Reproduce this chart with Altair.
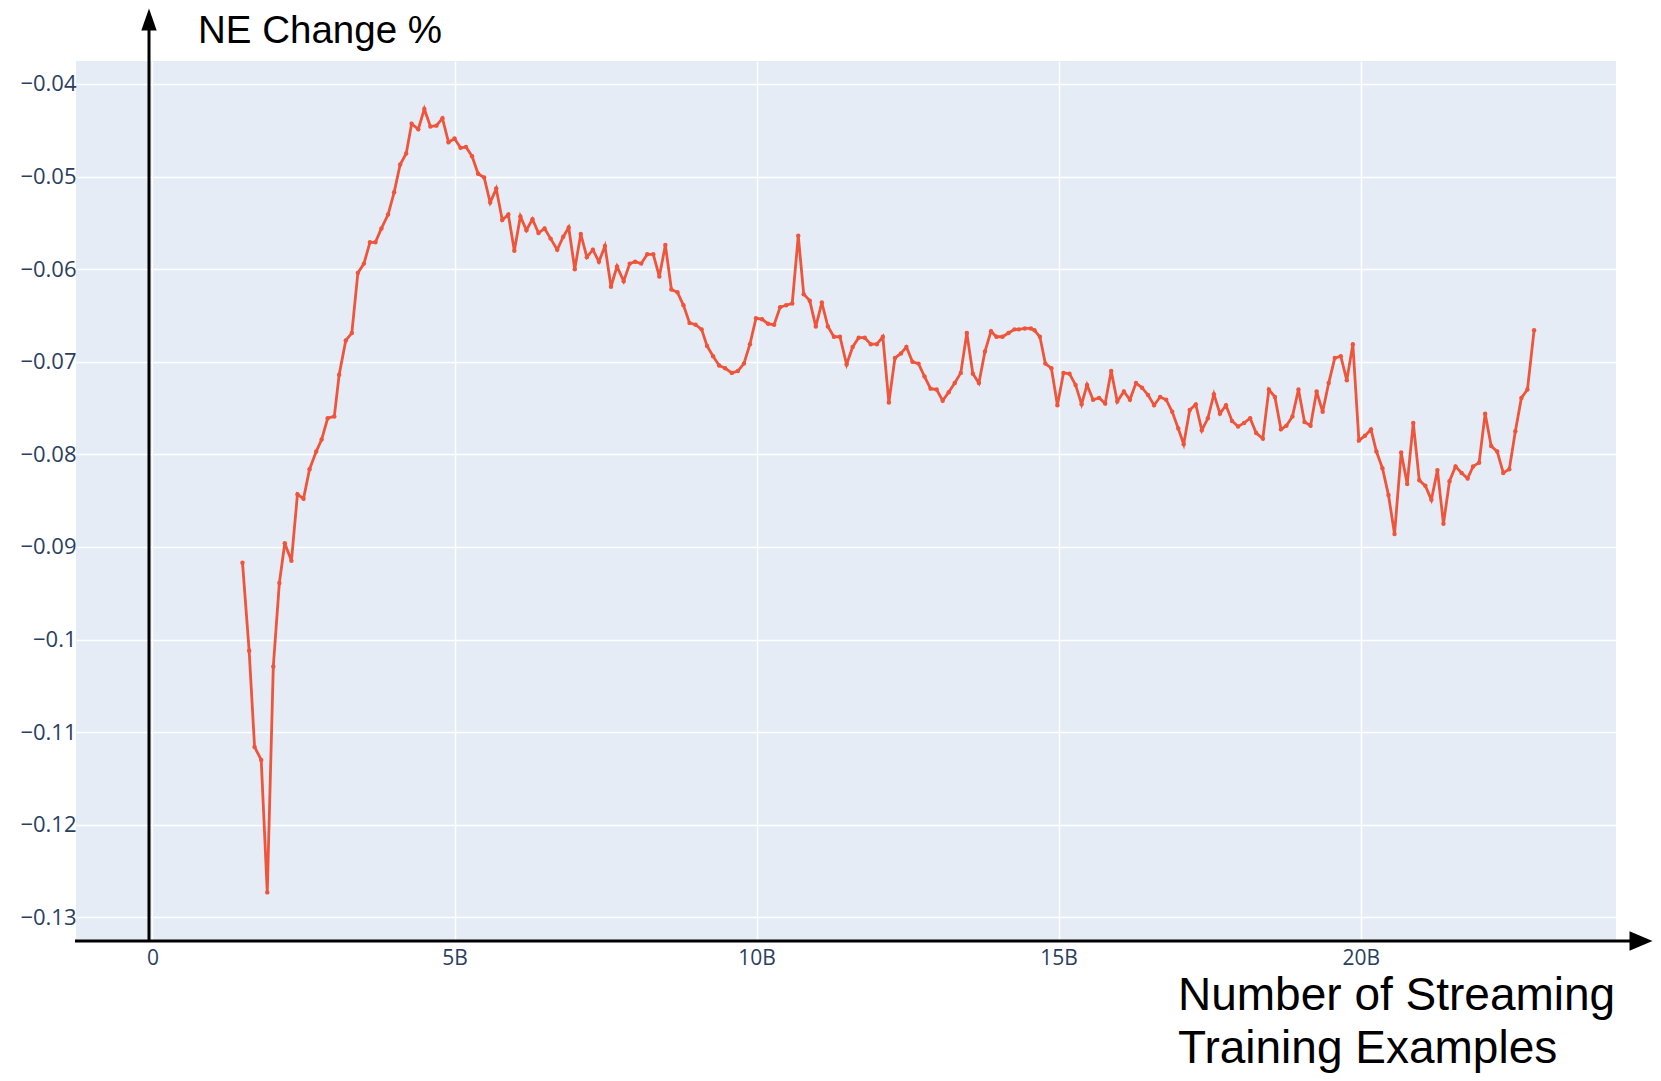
import altair as alt
import pandas as pd

# Number of streaming training examples (billions) and NE change (%)
x_early = [1.49, 1.60, 1.69, 1.80, 1.90, 2.00, 2.10, 2.19, 2.30, 2.40,
           2.50, 2.60, 2.71, 2.80, 2.90, 3.01, 3.09, 3.20, 3.30, 3.40,
           3.50, 3.60, 3.69, 3.79, 3.90, 4.00, 4.10, 4.20, 4.29, 4.40,
           4.50, 4.60, 4.70, 4.80, 4.90, 5.00, 5.10, 5.19, 5.29, 5.39,
           5.49, 5.59, 5.69, 5.79, 5.89, 5.99, 6.09, 6.19, 6.29, 6.39,
           6.49, 6.59, 6.70, 6.80, 6.89, 6.99, 7.09, 7.19, 7.29, 7.39,
           7.49, 7.59, 7.69, 7.80, 7.90]
y_early = [-0.0917, -0.1012, -0.1116, -0.1130, -0.1273, -0.1029, -0.0939, -0.0896, -0.0915, -0.0843,
           -0.0848, -0.0816, -0.0797, -0.0784, -0.0761, -0.0759, -0.0714, -0.0677, -0.0669, -0.0604,
           -0.0594, -0.0571, -0.0571, -0.0556, -0.0541, -0.0517, -0.0487, -0.0475, -0.0443, -0.0449,
           -0.0427, -0.0446, -0.0445, -0.0437, -0.0463, -0.0459, -0.0469, -0.0468, -0.0478, -0.0497,
           -0.0501, -0.0528, -0.0513, -0.0547, -0.0541, -0.0580, -0.0543, -0.0558, -0.0546, -0.0561,
           -0.0556, -0.0567, -0.0579, -0.0565, -0.0555, -0.0600, -0.0562, -0.0587, -0.0579, -0.0592,
           -0.0575, -0.0619, -0.0597, -0.0613, -0.0594]

x_mid = [7.99, 8.09, 8.19, 8.29, 8.39, 8.49, 8.59, 8.69, 8.79, 8.89,
         8.99, 9.09, 9.18, 9.28, 9.38, 9.48, 9.59, 9.69, 9.79, 9.89,
         9.99, 10.09, 10.19, 10.29, 10.39, 10.49, 10.59, 10.69, 10.78, 10.88,
         10.98, 11.08, 11.18, 11.28, 11.38, 11.49, 11.59, 11.69, 11.79, 11.89,
         11.99, 12.09, 12.19, 12.29, 12.39, 12.48, 12.58, 12.68, 12.78, 12.88,
         12.98, 13.08, 13.18, 13.28, 13.38, 13.48, 13.58, 13.68, 13.78, 13.88,
         13.97, 14.07, 14.17, 14.27]
y_mid = [-0.0592, -0.0594, -0.0584, -0.0584, -0.0608, -0.0574, -0.0622, -0.0625, -0.0639, -0.0658,
         -0.0660, -0.0665, -0.0683, -0.0694, -0.0704, -0.0707, -0.0712, -0.0710, -0.0702, -0.0681,
         -0.0653, -0.0654, -0.0659, -0.0660, -0.0641, -0.0639, -0.0637, -0.0564, -0.0627, -0.0634,
         -0.0662, -0.0636, -0.0662, -0.0673, -0.0673, -0.0703, -0.0684, -0.0674, -0.0674, -0.0681,
         -0.0681, -0.0673, -0.0744, -0.0696, -0.0691, -0.0684, -0.0700, -0.0702, -0.0716, -0.0729,
         -0.0730, -0.0742, -0.0733, -0.0723, -0.0712, -0.0669, -0.0713, -0.0723, -0.0689, -0.0667,
         -0.0673, -0.0673, -0.0669, -0.0665]

x_late = [14.34, 14.44, 14.54, 14.60, 14.69, 14.78, 14.88, 14.98, 15.08, 15.18,
          15.28, 15.38, 15.47, 15.57, 15.67, 15.77, 15.87, 15.97, 16.08, 16.18,
          16.28, 16.38, 16.48, 16.58, 16.68, 16.78, 16.88, 16.98, 17.07, 17.17,
          17.27, 17.37, 17.47, 17.57, 17.67, 17.77, 17.87, 17.97, 18.07, 18.17,
          18.27, 18.38, 18.48, 18.58, 18.68, 18.77, 18.87, 18.97, 19.07, 19.17,
          19.27, 19.37, 19.47, 19.57, 19.67, 19.77, 19.87, 19.97, 20.07, 20.17,
          20.26, 20.36, 20.46, 20.56]
y_late = [-0.0665, -0.0664, -0.0664, -0.0666, -0.0673, -0.0702, -0.0707, -0.0747, -0.0712, -0.0713,
          -0.0725, -0.0746, -0.0725, -0.0741, -0.0739, -0.0745, -0.0710, -0.0743, -0.0732, -0.0741,
          -0.0723, -0.0728, -0.0736, -0.0747, -0.0738, -0.0741, -0.0754, -0.0772, -0.0789, -0.0752,
          -0.0746, -0.0774, -0.0761, -0.0735, -0.0756, -0.0747, -0.0764, -0.0770, -0.0766, -0.0761,
          -0.0777, -0.0783, -0.0730, -0.0738, -0.0773, -0.0769, -0.0759, -0.0730, -0.0765, -0.0769,
          -0.0732, -0.0754, -0.0723, -0.0696, -0.0694, -0.0720, -0.0681, -0.0785, -0.0780, -0.0773,
          -0.0797, -0.0815, -0.0844, -0.0886]

x_end = [20.67, 20.77, 20.87, 20.97, 21.07, 21.17, 21.27, 21.37, 21.47, 21.57,
         21.67, 21.77, 21.86, 21.96, 22.06, 22.16, 22.26, 22.36, 22.46, 22.56,
         22.66, 22.76, 22.87]
y_end = [-0.0798, -0.0832, -0.0766, -0.0828, -0.0834, -0.0849, -0.0817, -0.0875, -0.0829, -0.0813,
         -0.0820, -0.0826, -0.0813, -0.0809, -0.0756, -0.0791, -0.0797, -0.0820, -0.0816, -0.0775,
         -0.0739, -0.0730, -0.0666]

x_ticks = [0, 5, 10, 15, 20]
y_ticks = [-0.04, -0.05, -0.06, -0.07, -0.08, -0.09, -0.10, -0.11, -0.12, -0.13]

y_title = "NE Change %"
x_title = ["Number of Streaming", "Training Examples"]

df = pd.DataFrame({"x": x_early + x_mid + x_late + x_end,
                   "y": y_early + y_mid + y_late + y_end})

W, H = 1540, 880
LINE_COLOR = "#EF553B"
TICK_COLOR = "#2a3f5f"

xscale = alt.Scale(domain=[-1.266, 24.226], nice=False, zero=False)
yscale = alt.Scale(domain=[-0.13255, -0.03752], nice=False, zero=False)

xaxis = alt.Axis(values=x_ticks, labelExpr="datum.value == 0 ? '0' : datum.value + 'B'",
                 title=None, grid=True, gridColor="white", gridWidth=1.5, domain=False,
                 ticks=False, labelFontSize=21, labelColor=TICK_COLOR, labelFont="Open Sans",
                 labelPadding=6)
yaxis = alt.Axis(values=y_ticks, format=".2~f", title=None, grid=True, gridColor="white",
                 gridWidth=1.5, domain=False, ticks=False, labelFontSize=22,
                 labelColor=TICK_COLOR, labelFont="Open Sans", labelPadding=0)

base = alt.Chart(df).encode(
    x=alt.X("x:Q", scale=xscale, axis=xaxis),
    y=alt.Y("y:Q", scale=yscale, axis=yaxis),
)
line = base.mark_line(color=LINE_COLOR, strokeWidth=2.8)
pts = base.mark_point(filled=True, size=20, color=LINE_COLOR, opacity=1)

one = pd.DataFrame({"k": [0]})

# Hand-drawn style axis arrows
v_rule = alt.Chart(one).mark_rule(color="black", strokeWidth=3).encode(
    x=alt.value(73), y=alt.value(880), y2=alt.value(-38))
v_head = alt.Chart(one).mark_point(shape="M0,-1L-0.7,1L0.7,1Z", filled=True, color="black",
                                   opacity=1, size=484).encode(
    x=alt.value(73), y=alt.value(-41.5))
h_rule = alt.Chart(one).mark_rule(color="black", strokeWidth=3).encode(
    x=alt.value(-1), x2=alt.value(1560), y=alt.value(880))
h_head = alt.Chart(one).mark_point(shape="M1,0L-1,-0.85L-1,0.85Z", filled=True, color="black",
                                   opacity=1, size=529).encode(
    x=alt.value(1565), y=alt.value(880))

t_y = alt.Chart(one).mark_text(text=y_title, font="Liberation Sans", fontSize=38.5, color="black",
                               align="left", baseline="alphabetic").encode(
    x=alt.value(122), y=alt.value(-18))
t_x = alt.Chart(one).mark_text(text=x_title, font="Liberation Sans", fontSize=46, color="black",
                               align="left", baseline="alphabetic", lineHeight=53).encode(
    x=alt.value(1102), y=alt.value(949))

chart = alt.layer(line, pts, v_rule, v_head, h_rule, h_head, t_y, t_x).properties(
    width=W, height=H,
    autosize=alt.AutoSizeParams(type="none"),
    padding={"left": 68, "top": 53, "right": 37, "bottom": 132},
).configure_view(fill="#E5ECF6", strokeWidth=0)

chart.save("out.html", embed_options={"renderer": "svg", "actions": False})
